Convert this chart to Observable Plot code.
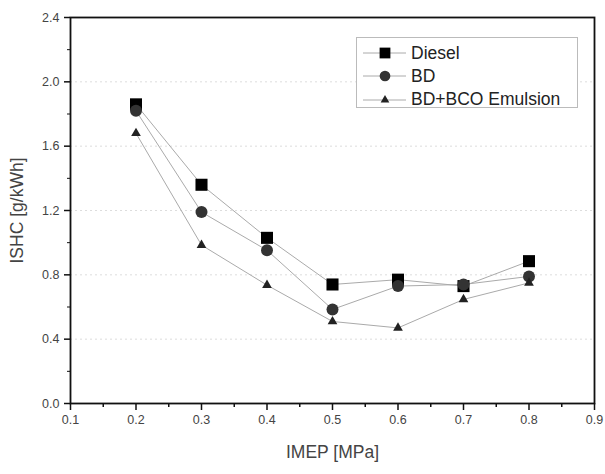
<!DOCTYPE html>
<html>
<head>
<meta charset="utf-8">
<script src="https://cdn.jsdelivr.net/npm/d3@7"></script>
<script src="https://cdn.jsdelivr.net/npm/@observablehq/plot@0.6"></script>
<style>
  html, body { margin: 0; padding: 0; background: #fff; }
  #wrap { position: relative; width: 605px; height: 474px; font-family: "Liberation Sans", Arial, sans-serif; }
  #legend { position: absolute; left: 356px; top: 37px; width: 222px; height: 71px; border: 1px solid #bbb; background: #fff; box-sizing: border-box; }
  #legend .row { position: absolute; left: 0; height: 22px; display: flex; align-items: center; }
  #legend .row span { font-size: 17.5px; color: #222; margin-left: 5px; }
</style>
</head>
<body>
<div id="wrap"><div id="legend"></div></div>
<script>
const imep = [0.2, 0.3, 0.4, 0.5, 0.6, 0.7, 0.8];
const diesel = [1.86, 1.36, 1.03, 0.74, 0.77, 0.73, 0.885];
const bd = [1.82, 1.19, 0.953, 0.585, 0.73, 0.74, 0.79];
const emulsion = [1.68, 0.985, 0.736, 0.51, 0.47, 0.647, 0.75];
const seriesNames = ["Diesel", "BD", "BD+BCO Emulsion"];
const xTicks = [0.1, 0.2, 0.3, 0.4, 0.5, 0.6, 0.7, 0.8, 0.9];
const yTicks = [0.0, 0.4, 0.8, 1.2, 1.6, 2.0, 2.4];

const styles = {
  "Diesel": {symbol: "square", r: 6.8, fill: "#000"},
  "BD": {symbol: "circle", r: 6, fill: "#333"},
  "BD+BCO Emulsion": {symbol: "triangle", r: 3.6, fill: "#222"}
};
const values = {"Diesel": diesel, "BD": bd, "BD+BCO Emulsion": emulsion};
const data = seriesNames.flatMap(s => imep.map((x, i) => ({series: s, x, y: values[s][i]})));

const xMinor = d3.range(0.15, 0.9, 0.1);
const yMinor = d3.range(0.2, 2.4, 0.4);

const marks = [
  Plot.gridY(yTicks.slice(1, -1), {stroke: "#ddd", strokeOpacity: 1, strokeDasharray: "2,3"}),
  Plot.axisX(xTicks, {tickFormat: d => d.toFixed(1), tickSize: 7, tickPadding: 5, fontSize: 12.5, fill: "#444", stroke: "#111", strokeWidth: 1.5, label: "IMEP [MPa]", labelAnchor: "center", labelOffset: 54, labelArrow: "none"}),
  Plot.axisX(xMinor, {tickFormat: null, text: null, tickSize: 4, stroke: "#111", strokeWidth: 1.5, label: null}),
  Plot.axisY(yTicks, {tickFormat: d => d.toFixed(1), tickSize: 6, tickPadding: 5, fontSize: 12.5, fill: "#444", stroke: "#111", strokeWidth: 1.5, label: "ISHC [g/kWh]", labelAnchor: "center", labelOffset: 60, labelArrow: "none"}),
  Plot.axisY(yMinor, {tickFormat: null, text: null, tickSize: 3, stroke: "#111", label: null}),
  Plot.frame({stroke: "#111", strokeWidth: 1.8})
];
for (const s of seriesNames) {
  const d = data.filter(e => e.series === s);
  marks.push(Plot.line(d, {x: "x", y: "y", stroke: "#aaa", strokeWidth: 1}));
}
for (const s of seriesNames) {
  const d = data.filter(e => e.series === s);
  const st = styles[s];
  marks.push(Plot.dot(d, {x: "x", y: "y", symbol: () => st.symbol, r: st.r, fill: st.fill, stroke: "none"}));
}

const chart = Plot.plot({
  width: 605,
  height: 474,
  marginLeft: 70,
  marginRight: 11,
  marginTop: 17,
  marginBottom: 71,
  style: {fontFamily: "Liberation Sans, Arial, sans-serif", fontSize: "15px", color: "#333", background: "#fff"},
  x: {domain: [0.1, 0.9], label: "IMEP [MPa]"},
  y: {domain: [0, 2.4], label: "ISHC [g/kWh]"},
  symbol: {type: "identity"},
  marks
});
d3.select(chart).selectAll("g[aria-label$='axis label']").attr("font-size", 17.5)
  .selectAll("text").attr("font-size", 17.5);
document.getElementById("wrap").prepend(chart);
chart.style.position = "absolute"; chart.style.left = "0"; chart.style.top = "0";

// legend
const legend = document.getElementById("legend");
const symPath = {square: d3.symbolSquare, circle: d3.symbolCircle, triangle: d3.symbolTriangle};
seriesNames.forEach((s, i) => {
  const st = styles[s];
  const row = document.createElement("div");
  row.className = "row";
  row.style.top = (4 + i * 23.3) + "px";
  const svg = d3.create("svg").attr("width", 49).attr("height", 22);
  svg.append("line").attr("x1", 6).attr("x2", 49).attr("y1", 11).attr("y2", 11).attr("stroke", "#aaa");
  svg.append("path").attr("transform", "translate(28,11)")
    .attr("d", d3.symbol(symPath[st.symbol], Math.PI * st.r * st.r * 0.8)()).attr("fill", st.fill);
  row.appendChild(svg.node());
  const t = document.createElement("span");
  t.textContent = s;
  row.appendChild(t);
  legend.appendChild(row);
});
</script>
</body>
</html>
